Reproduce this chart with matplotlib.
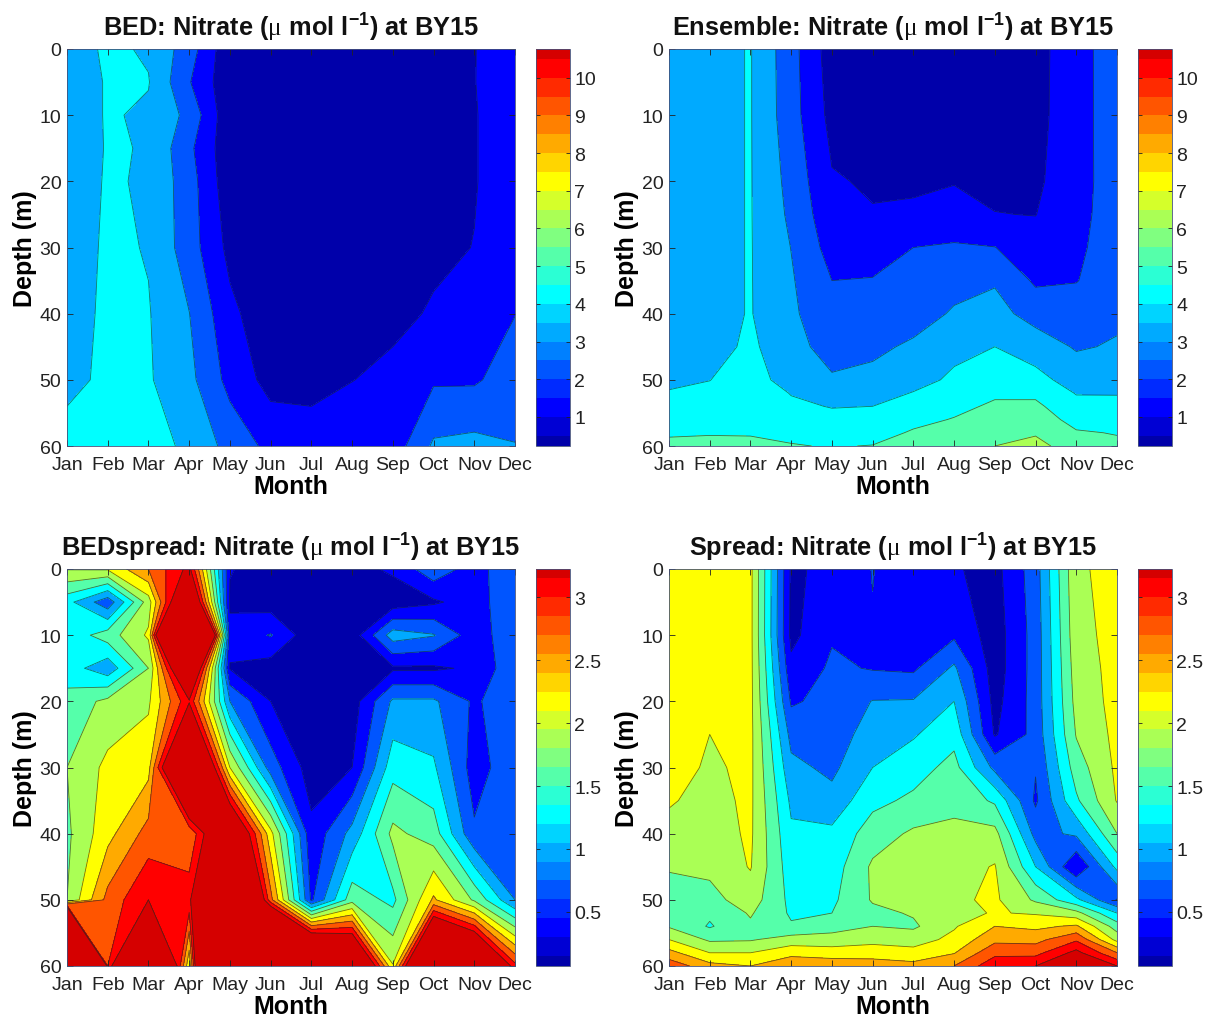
""" Nitrate climatologies at BY15 """

# Imports
import numpy as np
import matplotlib
matplotlib.use("Agg")
import matplotlib.pyplot as plt
from matplotlib.colors import ListedColormap, BoundaryNorm
from matplotlib.colorbar import ColorbarBase

plt.rcParams['font.family'] = ['Liberation Sans', 'DejaVu Sans']
plt.rcParams['mathtext.fontset'] = 'custom'
plt.rcParams['mathtext.rm'] = 'Liberation Sans:bold'
plt.rcParams['mathtext.it'] = 'Liberation Serif'
plt.rcParams['mathtext.bf'] = 'Liberation Sans:bold'
plt.rcParams['mathtext.default'] = 'rm'

month_names = ['Jan', 'Feb', 'Mar', 'Apr', 'May', 'Jun', 'Jul', 'Aug', 'Sep', 'Oct', 'Nov', 'Dec']
months = np.arange(1, 13)

depth_coarse = [0, 5, 10, 15, 20, 30, 40, 50, 60]
depth_ensemble = [0, 10, 20, 25, 30, 35, 40, 45, 50, 52, 54, 56, 58, 60]
depth_spread = [0, 10, 15, 20, 25, 30, 35, 40, 45, 50, 52, 54, 56, 58, 60]

bed = [
    [3.4, 4.2, 3.88, 2.48, .25, .25, .25, .25, .3, .5, .97, 1.6],
    [3.3, 4.1, 4.05, 2.07, .25, .25, .25, .25, .3, .5, .98, 1.5],
    [3.3, 4.1, 3.85, 2.73, .25, .25, .25, .25, .3, .5, .95, 1.5],
    [3.3, 4.08, 3.95, 2.22, .3, .25, .25, .25, .3, .5, .95, 1.5],
    [3.3, 4.12, 3.88, 2.44, .35, .25, .25, .25, .35, .55, .95, 1.5],
    [3.3, 4.21, 3.94, 2.47, .72, .3, .3, .35, .5, .8, 1.02, 1.6],
    [3.4, 4.27, 4.06, 3.02, 1.25, .3, .3, .45, .75, 1.1, 1.25, 1.98],
    [3.8, 4.15, 4.1, 3.27, 1.68, .65, .6, .98, 1.25, 1.87, 1.87, 2.5],
    [4.3, 4.5, 4.35, 3.82, 2.65, 1.72, 1.6, 1.65, 1.45, 3.15, 3.3, 3.03],
]

ensemble = [
    [3.4, 3.7, 4.05, 2.36, .5, .4, .4, .4, .4, .6, 1.74, 2.36],
    [3.4, 3.7, 4.05, 2.41, .7, .45, .45, .45, .45, .7, 1.6, 2.55],
    [3.4, 3.7, 4.05, 2.67, 1.08, .9, .9, .98, .8, .8, 1.7, 2.4],
    [3.4, 3.7, 4.05, 2.8, 1.3, 1.05, 1.1, 1.15, 1.02, .98, 1.75, 2.4],
    [3.4, 3.7, 4.05, 2.98, 1.6, 1.55, 2.0, 2.15, 2.02, 1.4, 1.85, 2.4],
    [3.4, 3.7, 4.05, 3.1, 2.0, 2.05, 2.35, 2.7, 2.9, 1.85, 1.97, 2.45],
    [3.4, 3.7, 4.05, 3.2, 2.2, 2.35, 2.6, 3.1, 3.35, 2.6, 2.4, 2.8],
    [3.55, 3.6, 4.2, 3.3, 2.66, 2.8, 3.15, 3.7, 4.0, 3.55, 2.9, 3.1],
    [3.85, 3.98, 4.6, 3.4, 3.1, 3.25, 3.6, 4.2, 4.6, 4.3, 3.6, 3.7],
    [4.05, 4.25, 4.7, 3.95, 3.55, 3.55, 4.05, 4.45, 4.85, 4.8, 3.95, 3.95],
    [4.3, 4.45, 4.8, 4.2, 3.95, 4.0, 4.35, 4.75, 5.15, 5.2, 4.3, 4.25],
    [4.55, 4.7, 4.85, 4.5, 4.3, 4.3, 4.75, 5.05, 5.45, 5.55, 4.65, 4.6],
    [4.9, 4.95, 4.95, 4.8, 4.6, 4.65, 5.1, 5.4, 5.75, 5.9, 5.1, 4.95],
    [5.2, 5.2, 5.15, 5.05, 4.95, 5.03, 5.4, 5.8, 6.0, 6.3, 5.5, 5.2],
]

bed_spread = [
    [2.12, 2.14, 2.7, 3.4, .32, .15, .2, .2, .35, .8, .45, .88],
    [1.3, .7, 1.95, 4.4, .25, .15, .15, .12, .12, .25, .45, .85],
    [1.3, 1.65, 2.15, 8.5, .4, .62, .1, .12, 1.05, .92, .43, .82],
    [1.35, 1.0, 1.8, 4.5, .28, .15, .15, .15, .25, .25, .35, .82],
    [1.6, 1.88, 2.05, 3.25, .9, .3, .15, .15, .95, .95, .55, .82],
    [1.8, 2.18, 2.3, 5.3, 2.1, .75, .15, .3, 1.38, 1.25, .45, .82],
    [1.74, 2.3, 2.82, 2.72, 4.3, 2.2, .38, 1.0, 1.88, 1.65, .65, .85],
    [1.8, 2.8, 3.3, 3.2, 6.0, 2.8, .55, 1.68, 1.42, 2.45, 1.75, .9],
    [16.0, 3.0, 6.0, 2.15, 10.0, 8.0, 6.05, 4.85, 2.12, 5.85, 5.0, 3.1],
]

spread = [
    [2.25, 2.22, 2.18, .25, .38, .61, .4, .33, .2, .76, 2.05, 2.2],
    [2.25, 2.2, 2.18, .22, .57, .58, .5, .55, .15, .72, 2.0, 2.2],
    [2.25, 2.18, 2.18, .38, .65, .58, .55, .95, .15, .72, 1.95, 2.2],
    [2.25, 2.15, 2.18, .56, .7, .91, .92, 1.2, .2, .72, 1.9, 2.2],
    [2.25, 2.1, 2.18, .8, .75, 1.03, 1.17, 1.4, .27, .7, 1.82, 2.18],
    [2.25, 2.05, 2.17, .98, .83, 1.2, 1.37, 1.6, .82, .62, 1.65, 2.16],
    [2.13, 2.0, 2.16, 1.14, 1.0, 1.42, 1.56, 1.72, 1.45, .55, 1.45, 2.12],
    [2.0, 1.95, 2.15, 1.25, 1.27, 1.65, 1.85, 1.87, 1.9, .8, .95, 1.8],
    [1.85, 1.87, 2.12, 1.33, 1.35, 1.85, 1.95, 1.98, 2.12, 1.2, .3, 1.28],
    [1.55, 1.7, 1.95, 1.42, 1.44, 1.83, 1.88, 2.05, 2.15, 1.75, 1.27, .58],
    [1.6, 1.55, 1.83, 1.46, 1.5, 1.72, 1.83, 2.02, 2.12, 2.07, 1.9, 1.2],
    [1.77, 1.47, 1.75, 1.53, 1.68, 1.8, 1.75, 2.07, 2.4, 2.33, 2.45, 1.65],
    [2.1, 1.75, 1.77, 1.93, 1.92, 2.0, 1.97, 2.18, 2.62, 2.6, 2.95, 2.0],
    [2.5, 2.1, 2.1, 2.3, 2.25, 2.27, 2.2, 2.38, 2.92, 2.9, 3.4, 2.7],
    [2.9, 2.5, 2.4, 2.65, 2.6, 2.55, 2.5, 2.7, 3.2, 3.3, 3.8, 3.3],
]

# contour levels and colourbar steps
levels_top = [0, 1, 2, 3, 4, 5, 6, 7, 8, 9, 10, 11]
levels_bottom = [0, .3, .6, .9, 1.2, 1.5, 1.8, 2.1, 2.4, 2.7, 3.0, 3.3, 20]
bar_top = [0.23] + list(np.arange(0.5, 10.6, 0.5)) + [10.76]
bar_bottom = [0.07] + list(np.arange(0.15, 3.16, 0.15)) + [3.225]
ticks_top = [1, 2, 3, 4, 5, 6, 7, 8, 9, 10]
ticks_bottom = [0.5, 1, 1.5, 2, 2.5, 3]
ticklabels_bottom = ['0.5', '1', '1.5', '2', '2.5', '3']


def jet_band(i):
    # same jet as matlab, 24 steps
    x = (i + 1) / 24
    r = min(4 * x - 1.5, -4 * x + 4.5)
    g = min(4 * x - 0.5, -4 * x + 3.5)
    b = min(4 * x + 0.5, -4 * x + 2.5)
    return tuple(float(np.clip(c, 0, 1)) for c in (r, g, b))


bar_colors = [jet_band(i) for i in range(22)]

W, H = 1210, 1020
fig = plt.figure(figsize=(W / 100, H / 100), dpi=100)

panels = [
    ('BED', bed, depth_coarse, levels_top, bar_top, ticks_top, None, 67, 50),
    ('Ensemble', ensemble, depth_ensemble, levels_top, bar_top, ticks_top, None, 669, 50),
    ('BEDspread', bed_spread, depth_coarse, levels_bottom, bar_bottom, ticks_bottom, ticklabels_bottom, 67, 570),
    ('Spread', spread, depth_spread, levels_bottom, bar_bottom, ticks_bottom, ticklabels_bottom, 669, 570),
]

for name, values, depth, levels, bar, bar_ticks, bar_labels, left, top in panels:
    ax = fig.add_axes([left / W, 1 - (top + 397) / H, 448 / W, 397 / H])
    band_colors = [bar_colors[min(2 * k, 21)] for k in range(len(levels) - 1)]
    ax.contourf(months, depth, np.array(values), levels=levels, colors=band_colors)
    ax.contour(months, depth, np.array(values), levels=levels[1:-1], colors='#1a2a20',
               linewidths=0.6, alpha=0.65)
    ax.set_xlim(1, 12)
    ax.set_ylim(60, 0)
    ax.set_xticks(months)
    ax.set_xticklabels(month_names)
    ax.set_yticks([0, 10, 20, 30, 40, 50, 60])
    ax.tick_params(direction='in', length=4, width=0.6, top=True, right=True,
                   labelsize=14, colors='#222222', pad=4)
    ax.tick_params(axis='x', pad=7)
    for s in ax.spines.values():
        s.set_linewidth(0.6)
        s.set_color('#44507a')
    ax.set_xlabel('Month', fontsize=18, fontweight='bold', labelpad=1)
    ax.set_ylabel('Depth (m)', fontsize=18, fontweight='bold', labelpad=2)
    ax.set_title(name + r': Nitrate ($\mathit{\mu}$ mol l$^{-1}$) at BY15', fontsize=18.3,
                 fontweight='bold', pad=10, color='#111111')

    # colourbar next to the panel
    cax = fig.add_axes([(left + 469) / W, 1 - (top + 397) / H, 34 / W, 397 / H])
    cb = ColorbarBase(cax, cmap=ListedColormap(bar_colors),
                      norm=BoundaryNorm(bar, 22), spacing='proportional',
                      ticks=bar_ticks, drawedges=False)
    if bar_labels:
        cb.set_ticklabels(bar_labels)
    else:
        cb.set_ticklabels([str(t) for t in bar_ticks])
    cb.minorticks_off()
    cax.tick_params(direction='in', length=3, width=0.6, left=True, right=True,
                    labelsize=14, colors='#222222', pad=3)
    cb.outline.set_linewidth(0.6)
    cb.outline.set_edgecolor('#44507a')

plt.savefig("out.png", dpi=100)
